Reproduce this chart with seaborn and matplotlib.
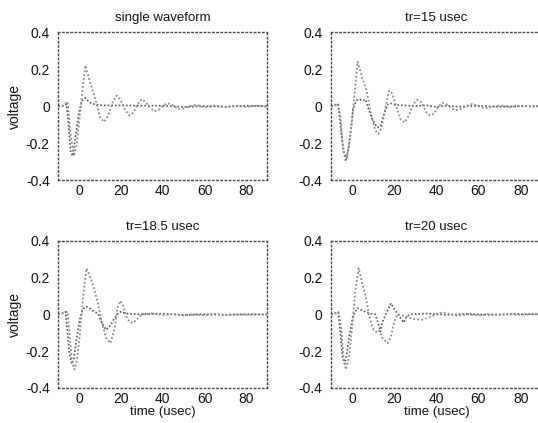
import pandas as pd
import seaborn as sns
import matplotlib
import matplotlib.pyplot as plt

matplotlib.use('Agg')

# Panel titles
titles = ["single waveform", "tr=15 usec", "tr=18.5 usec", "tr=20 usec"]

x_ticks = [0, 20, 40, 60, 80]
y_ticks = [-0.4, -0.2, 0, 0.2, 0.4]
y_tick_labels = ["-0.4", "-0.2", "0", "0.2", "0.4"]

# single waveform
p1_a_t = [-10, -8, -5.5, -4, -2.5, -1, 1, 3, 5, 8, 10, 12, 14, 16, 18, 20, 22, 24, 26, 28,
          30, 32, 34, 36, 38, 40, 42, 44, 46, 48, 50, 53, 56, 60, 65, 70, 75, 80, 85, 90]
p1_a_v = [0, 0.0, 0.025, -0.15, -0.27, -0.2, 0.02, 0.22, 0.14, 0.03, -0.06, -0.085, -0.05, 0.02,
          0.058, 0.03, -0.02, -0.05, -0.035, 0.01, 0.038, 0.02, -0.01, -0.027, -0.02, 0.0, 0.016,
          0.01, -0.005, -0.016, -0.012, 0.0, 0.008, -0.008, 0.004, -0.005, 0.003, -0.004, 0.002, -0.003]
p1_b_t = [-10, -8, -6, -5, -4, -3, -1.5, 0, 1.5, 3, 5, 7, 10, 15, 20, 30, 40, 50, 60, 70, 80, 90]
p1_b_v = [0, 0, 0.01, -0.1, -0.25, -0.27, -0.15, -0.03, 0.03, 0.045, 0.02, 0.012, 0.005, 0.004,
          0.004, 0.003, 0.002, -0.004, 0.0, -0.003, 0.002, 0.0]

# tr=15 usec
p2_a_t = [-10, -8, -7, -5.5, -4.5, -3, -1.5, 0, 1.5, 2.7, 5, 7, 9, 11, 12.5, 14, 16, 17.6, 19, 21,
          23, 25, 27, 29, 31, 33, 35, 37, 39, 41, 43, 45, 47, 49, 51, 54, 57, 60, 63, 66, 70, 75,
          80, 85, 90]
p2_a_v = [0, 0.005, 0.015, -0.05, -0.2, -0.3, -0.22, -0.08, 0.1, 0.24, 0.15, 0.08, -0.04, -0.13,
          -0.15, -0.12, 0.0, 0.084, 0.07, 0.0, -0.07, -0.088, -0.05, 0.01, 0.035, 0.02, -0.03, -0.05,
          -0.04, 0.0, 0.018, 0.01, -0.01, -0.022, -0.018, 0.0, 0.012, 0.0, -0.012, -0.005, 0.004,
          -0.004, 0.002, -0.003, 0]
p2_b_t = [-10, -8, -6.5, -5.5, -4, -2.5, -1, 0.5, 2, 3.5, 5, 6.5, 8, 10, 12, 13.5, 15, 17, 18.5,
          20, 25, 30, 35, 40, 45, 50, 60, 70, 80, 90]
p2_b_v = [0, 0.005, 0.01, -0.1, -0.25, -0.28, -0.18, -0.02, 0.03, 0.038, 0.03, 0.035, -0.02,
          -0.08, -0.115, -0.11, -0.05, 0.01, 0.015, 0.008, 0.004, 0.0, 0.005, -0.004, 0.003,
          -0.003, 0.002, -0.003, 0.0, 0]

# tr=18.5 usec
p3_a_t = [-10, -8, -5.5, -4.5, -3.5, -2.2, -1, 0.5, 2, 3.6, 5.5, 7.2, 9, 11, 13, 15, 17, 18.5,
          19.8, 21, 22.5, 24, 25.6, 27.5, 30, 35, 40, 45, 50, 55, 60, 65, 70, 75, 80, 85, 90]
p3_a_v = [0, 0.005, 0.015, -0.1, -0.25, -0.3, -0.25, -0.1, 0.1, 0.25, 0.2, 0.14, 0.06, -0.05,
          -0.13, -0.157, -0.08, 0.04, 0.073, 0.05, -0.01, -0.04, -0.048, -0.03, 0.0, 0.005,
          -0.004, 0.0, -0.006, 0.0, -0.005, 0.002, -0.004, 0.0, -0.003, 0.0, 0]
p3_b_t = [-10, -8, -6.5, -5.5, -4.5, -3.5, -2.5, -1, 0.5, 2, 3.5, 5.5, 7, 9, 11, 13, 15, 17, 19,
          20.5, 22, 25, 30, 40, 50, 60, 70, 80, 90]
p3_b_v = [0, 0.005, 0.015, -0.1, -0.22, -0.27, -0.24, -0.12, -0.02, 0.03, 0.042, 0.03, 0.015,
          0.005, -0.05, -0.085, -0.06, -0.02, 0.01, 0.015, 0.005, 0.002, 0.0, 0.004, -0.004,
          0.0, -0.003, 0.0, -0.002]

# tr=20 usec
p4_a_t = [-10, -8, -6.4, -5, -4, -2.9, -1.5, 0, 1.5, 3.2, 5, 6.5, 8, 10, 12, 13, 14.5, 16.9,
          18.5, 20, 21.5, 25, 29, 33, 37, 40, 43, 47, 50, 55, 60, 65, 70, 75, 80, 85, 90]
p4_a_v = [0, 0.005, 0.014, -0.08, -0.24, -0.3, -0.24, -0.08, 0.12, 0.25, 0.16, 0.1, 0.0, -0.08,
          -0.1, -0.09, -0.13, -0.157, -0.12, -0.04, 0.0, -0.01, -0.025, -0.03, -0.015, 0.0,
          0.01, 0.0, -0.008, 0.0, -0.007, 0.002, -0.004, 0.0, -0.003, 0.0, 0]
p4_b_t = [-10, -8, -6.5, -5.5, -4.5, -3.5, -2.5, -1, 0.5, 2.5, 5, 8, 11, 12.5, 13.5, 14.5, 16,
          18.5, 20, 21.5, 23, 24.5, 26, 28, 35, 45, 55, 65, 75, 90]
p4_b_v = [0, 0.005, 0.01, -0.1, -0.23, -0.27, -0.22, -0.1, -0.01, 0.034, 0.02, 0.005, 0.0,
          -0.05, -0.094, -0.04, 0.0, 0.06, 0.03, 0.005, -0.02, -0.045, -0.01, 0.0, 0.004,
          -0.003, 0.002, -0.003, 0.001, 0]

panels = [
    (p1_a_t, p1_a_v, p1_b_t, p1_b_v),
    (p2_a_t, p2_a_v, p2_b_t, p2_b_v),
    (p3_a_t, p3_a_v, p3_b_t, p3_b_v),
    (p4_a_t, p4_a_v, p4_b_t, p4_b_v),
]

sns.set_theme(style="white")
plt.rcParams['font.family'] = ['Liberation Sans', 'DejaVu Sans']

fig = plt.figure(figsize=(5.38, 4.23), dpi=100)

# axes rectangles (left, bottom, width, height) in figure fractions
rects = [
    (0.108, 0.574, 0.389, 0.350),
    (0.615, 0.574, 0.392, 0.350),
    (0.108, 0.083, 0.389, 0.348),
    (0.615, 0.083, 0.392, 0.348),
]

for i, (rect, title, (at, av, bt, bv)) in enumerate(zip(rects, titles, panels)):
    ax = fig.add_axes(rect)
    df_a = pd.DataFrame({"time": at, "voltage": av})
    df_b = pd.DataFrame({"time": bt, "voltage": bv})
    sns.lineplot(data=df_b, x="time", y="voltage", ax=ax, color="#555555",
                 linestyle=(0, (1, 1.2)), linewidth=1.2, estimator=None, sort=False)
    sns.lineplot(data=df_a, x="time", y="voltage", ax=ax, color="#8a8a8a",
                 linestyle=(0, (1, 1.2)), linewidth=1.3, estimator=None, sort=False)

    ax.set_xlim(-10, 90)
    ax.set_ylim(-0.4, 0.4)
    ax.set_xticks(x_ticks)
    ax.set_xticklabels([str(t) for t in x_ticks])
    ax.set_yticks(y_ticks)
    ax.set_yticklabels(y_tick_labels)
    ax.tick_params(axis="y", direction="in", length=2, labelsize=10, colors="#111111", pad=6)
    ax.tick_params(axis="x", direction="in", length=2, labelsize=10, colors="#111111", pad=3)
    ax.set_title(title, fontsize=9.5, pad=8, color="#111111")

    for spine in ax.spines.values():
        spine.set_linestyle((0, (1, 2)))
        spine.set_color("#444444")
        spine.set_linewidth(1.0)

    if i % 2 == 0:
        ax.set_ylabel("voltage", fontsize=10, color="#111111", labelpad=3)
    else:
        ax.set_ylabel("")
    if i >= 2:
        ax.set_xlabel("time (usec)", fontsize=9.5, color="#111111", labelpad=0)
    else:
        ax.set_xlabel("")

fig.savefig("out.png", dpi=100)
plt.close(fig)
